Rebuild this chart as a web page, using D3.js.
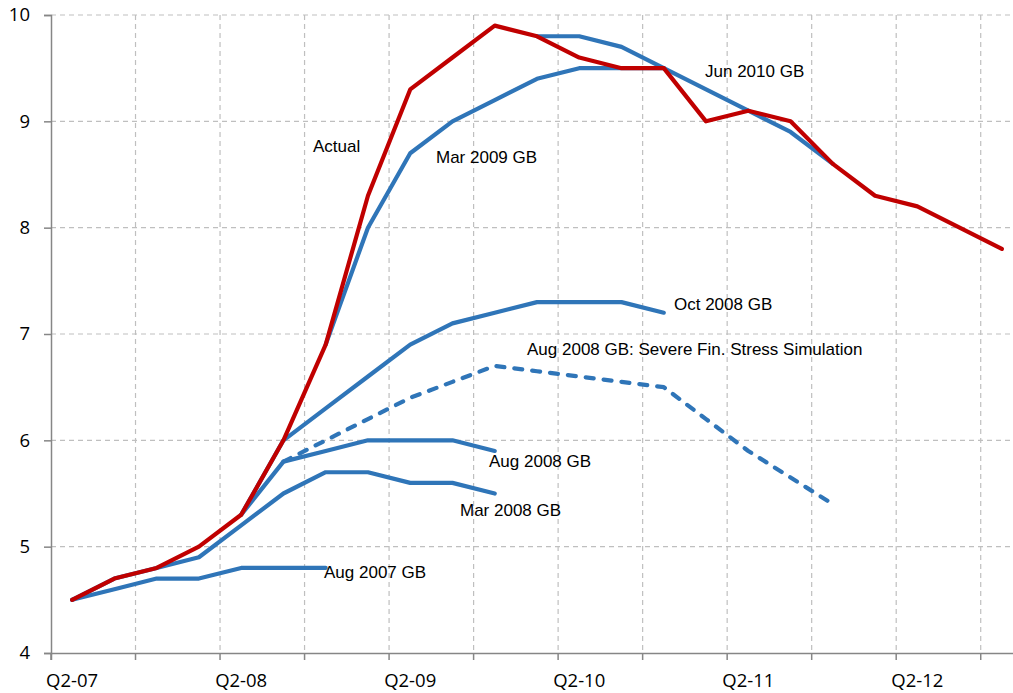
<!DOCTYPE html>
<html>
<head>
<meta charset="utf-8">
<script src="https://cdn.jsdelivr.net/npm/d3@7"></script>
<style>
  body { margin: 0; background: #fff; }
  .tick-label { font-family: "Open Sans", sans-serif; font-size: 18.5px; fill: #000; }
  .note { font-family: "Liberation Sans", Arial, sans-serif; font-size: 17px; fill: #000; }
</style>
</head>
<body>
<svg width="1013" height="693"></svg>
<script>
var svg = d3.select("svg"),
    width = +svg.attr("width"),
    height = +svg.attr("height");

// Quarters shown on the category axis
var quarters = ["Q2-07","Q3-07","Q4-07","Q1-08","Q2-08","Q3-08","Q4-08","Q1-09",
                "Q2-09","Q3-09","Q4-09","Q1-10","Q2-10","Q3-10","Q4-10","Q1-11",
                "Q2-11","Q3-11","Q4-11","Q1-12","Q2-12","Q3-12","Q4-12"];
var yTicks = [4, 5, 6, 7, 8, 9, 10];

// Each forecast: values and the quarter index where it starts
var actual = [4.5, 4.7, 4.8, 5.0, 5.3, 6.0, 6.9, 8.3, 9.3, 9.6, 9.9, 9.8,
              9.6, 9.5, 9.5, 9.0, 9.1, 9.0, 8.6, 8.3, 8.2, 8.0, 7.8];
var aug2007 = [4.5, 4.6, 4.7, 4.7, 4.8, 4.8, 4.8];            // start 0
var mar2008 = [4.5, 4.7, 4.8, 4.9, 5.2, 5.5, 5.7, 5.7, 5.6, 5.6, 5.5]; // start 0
var aug2008 = [5.3, 5.8, 5.9, 6.0, 6.0, 6.0, 5.9];            // start 4
var aug2008Severe = [5.8, 6.0, 6.2, 6.4, 6.55, 6.7, 6.65, 6.6, 6.55, 6.5,
                     6.2, 5.9, 5.65, 5.4];                     // start 5
var oct2008 = [5.3, 6.0, 6.3, 6.6, 6.9, 7.1, 7.2, 7.3, 7.3, 7.3, 7.2]; // start 4
var mar2009 = [6.9, 8.0, 8.7, 9.0, 9.2, 9.4, 9.5, 9.5, 9.5];  // start 6
var jun2010 = [9.8, 9.8, 9.7, 9.5, 9.3, 9.1, 8.9, 8.6];       // start 11

var blue = "#2f75b8", red = "#c00000";

var series = [
  { values: aug2007, start: 0, color: blue },
  { values: mar2008, start: 0, color: blue },
  { values: aug2008, start: 4, color: blue },
  { values: aug2008Severe, start: 5, color: blue, dash: true },
  { values: oct2008, start: 4, color: blue },
  { values: mar2009, start: 6, color: blue },
  { values: jun2010, start: 11, color: blue },
  { values: actual, start: 0, color: red }
];

// Scales
var x = d3.scaleBand()
    .domain(quarters)
    .range([51, 51 + quarters.length * 42.26]);
var y = d3.scaleLinear()
    .domain([4, 10])
    .range([653, 15]);

// Grid lines
var grid = svg.append("g").attr("class", "grid");
grid.selectAll(".hgrid")
    .data(yTicks.slice(1))
    .enter().append("line")
      .attr("x1", 51).attr("x2", width)
      .attr("y1", function(d) { return y(d); })
      .attr("y2", function(d) { return y(d); })
      .attr("stroke", "#bfbfbf")
      .attr("stroke-width", 1.2)
      .attr("stroke-dasharray", "5,4");
var tickQuarters = quarters.filter(function(d, i) { return i % 2 == 0 && i > 0; });
grid.selectAll(".vgrid")
    .data(tickQuarters)
    .enter().append("line")
      .attr("x1", function(d) { return x(d); })
      .attr("x2", function(d) { return x(d); })
      .attr("y1", y(10)).attr("y2", y(4))
      .attr("stroke", "#bfbfbf")
      .attr("stroke-width", 1.2)
      .attr("stroke-dasharray", "5,4");

// X axis
var xAxis = svg.append("g")
    .attr("transform", "translate(0," + y(4) + ")")
    .call(d3.axisBottom(x)
      .tickValues(quarters.filter(function(d, i) { return i % 2 == 0; }))
      .tickSize(7)
      .tickFormat(""));
xAxis.select(".domain").attr("stroke", "#868686").attr("stroke-width", 1.5);
xAxis.selectAll(".tick").attr("transform", function(d) { return "translate(" + x(d) + ",0)"; });
xAxis.selectAll(".tick line").attr("stroke", "#868686").attr("stroke-width", 1.5);

svg.append("g").selectAll("text")
    .data(quarters.filter(function(d, i) { return i % 4 == 0; }))
    .enter().append("text")
      .attr("class", "tick-label")
      .attr("x", function(d) { return x(d) + x.bandwidth() / 2; })
      .attr("y", 687)
      .attr("text-anchor", "middle")
      .text(function(d) { return d; });

// Y axis
var yAxis = svg.append("g")
    .attr("transform", "translate(51,0)")
    .call(d3.axisLeft(y).tickValues(yTicks).tickSize(7).tickFormat(""));
yAxis.select(".domain").attr("stroke", "#868686").attr("stroke-width", 1.5);
yAxis.selectAll(".tick line").attr("stroke", "#868686").attr("stroke-width", 1.5);

svg.append("g").selectAll("text")
    .data(yTicks)
    .enter().append("text")
      .attr("class", "tick-label")
      .attr("x", 30)
      .attr("y", function(d) { return y(d); })
      .attr("dy", "0.35em")
      .attr("text-anchor", "end")
      .text(function(d) { return d; });

// Lines
var line = d3.line()
    .x(function(d) { return x(quarters[d.i]) + x.bandwidth() / 2; })
    .y(function(d) { return y(d.v); });

svg.append("g").selectAll("path")
    .data(series)
    .enter().append("path")
      .attr("fill", "none")
      .attr("stroke", function(d) { return d.color; })
      .attr("stroke-width", 4.2)
      .attr("stroke-linejoin", "round")
      .attr("stroke-linecap", "round")
      .attr("stroke-dasharray", function(d) { return d.dash ? "8,10" : null; })
      .attr("d", function(d) {
        return line(d.values.map(function(v, k) { return { i: d.start + k, v: v }; }));
      });

// Annotations
var notes = [
  { text: "Actual", x: 313, y: 152 },
  { text: "Mar 2009 GB", x: 436, y: 163 },
  { text: "Jun 2010 GB", x: 705, y: 77 },
  { text: "Oct 2008 GB", x: 674, y: 310 },
  { text: "Aug 2008 GB: Severe Fin. Stress Simulation", x: 527, y: 355 },
  { text: "Aug 2008 GB", x: 489, y: 467 },
  { text: "Mar 2008 GB", x: 460, y: 516 },
  { text: "Aug 2007 GB", x: 324, y: 578 }
];
svg.append("g").selectAll("text")
    .data(notes)
    .enter().append("text")
      .attr("class", "note")
      .attr("x", function(d) { return d.x; })
      .attr("y", function(d) { return d.y; })
      .text(function(d) { return d.text; });
</script>
</body>
</html>
